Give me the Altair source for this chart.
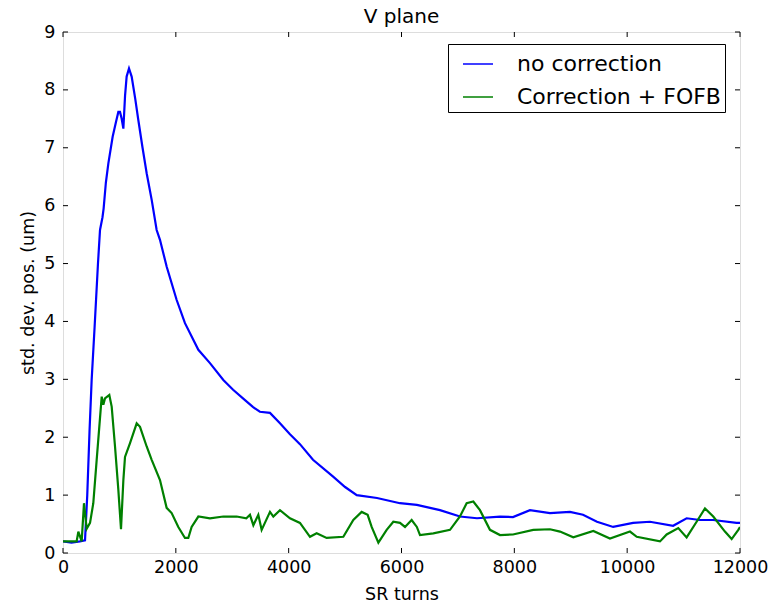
import altair as alt
import pandas as pd

# Beam position spread vs. turns in the storage ring, V plane
turns_no_corr = [0, 150, 300, 390, 430, 470, 508, 560, 620, 656, 700, 720, 760, 804, 880,
                 940, 981, 1010, 1040, 1070, 1100, 1128, 1170, 1217, 1280, 1335, 1410, 1483,
                 1572, 1660, 1719, 1837, 2015, 2162, 2399, 2605, 2842, 3015, 3226, 3370, 3490,
                 3669, 3846, 4023, 4200, 4431, 4788, 5000, 5207, 5566, 5973, 6272, 6682, 7036,
                 7338, 7746, 7976, 8277, 8632, 8986, 9217, 9465, 9752, 10105, 10404, 10815,
                 11054, 11290, 11526, 11940, 12000]
std_no_corr = [0.20, 0.18, 0.20, 0.22, 1.0, 2.1, 2.99, 3.9, 5.0, 5.58, 5.8, 5.95, 6.4, 6.73, 7.19,
               7.45, 7.62, 7.62, 7.5, 7.33, 7.9, 8.23, 8.37, 8.23, 7.85, 7.48, 7.0, 6.56,
               6.10, 5.58, 5.41, 4.95, 4.37, 3.97, 3.51, 3.28, 2.99, 2.82, 2.64, 2.52, 2.44,
               2.42, 2.24, 2.05, 1.88, 1.61, 1.32, 1.14, 1.00, 0.95, 0.86, 0.83, 0.74, 0.63,
               0.60, 0.63, 0.62, 0.74, 0.69, 0.71, 0.66, 0.54, 0.45, 0.52, 0.54, 0.47,
               0.60, 0.57, 0.57, 0.52, 0.52]

turns_fofb = [0, 242, 272, 331, 372, 420, 479, 537, 597, 686, 715, 744, 821, 863, 922, 981,
              1028, 1070, 1099, 1188, 1306, 1365, 1483, 1572, 1719, 1837, 1926, 2044, 2162,
              2221, 2280, 2399, 2605, 2842, 3078, 3250, 3314, 3374, 3462, 3521, 3669, 3728,
              3846, 4023, 4200, 4378, 4496, 4673, 4969, 5146, 5294, 5400, 5471, 5590, 5737,
              5855, 5973, 6062, 6180, 6272, 6328, 6564, 6860, 7036, 7155, 7273, 7391, 7568,
              7746, 7976, 8335, 8632, 8810, 9045, 9400, 9695, 10050, 10170, 10582, 10700,
              10906, 11054, 11231, 11379, 11526, 11733, 11852, 11970, 12000]
std_fofb = [0.20, 0.20, 0.37, 0.20, 0.86, 0.42, 0.52, 0.86, 1.61, 2.70, 2.56, 2.67, 2.73, 2.53,
            1.84, 1.09, 0.41, 1.26, 1.66, 1.90, 2.24, 2.18, 1.84, 1.61, 1.26, 0.78, 0.69, 0.45,
            0.26, 0.26, 0.45, 0.63, 0.60, 0.63, 0.63, 0.60, 0.66, 0.48, 0.66, 0.40, 0.71, 0.63,
            0.74, 0.60, 0.52, 0.28, 0.34, 0.26, 0.28, 0.57, 0.71, 0.66, 0.45, 0.18, 0.40,
            0.54, 0.52, 0.45, 0.57, 0.45, 0.31, 0.34, 0.40, 0.63, 0.86, 0.89, 0.74, 0.40,
            0.31, 0.32, 0.40, 0.41, 0.37, 0.27, 0.38, 0.25, 0.37, 0.28, 0.20, 0.32,
            0.43, 0.27, 0.54, 0.77, 0.63, 0.37, 0.24, 0.40, 0.45]

series_names = ["no correction", "Correction + FOFB"]
series_colors = ["#0000ff", "#008000"]
x_ticks = [0, 2000, 4000, 6000, 8000, 10000, 12000]
y_ticks = [0, 1, 2, 3, 4, 5, 6, 7, 8, 9]

W, H = 677, 521
FONT = "DejaVu Sans"
TICK_LEN = 5

df = pd.concat([
    pd.DataFrame({"turns": turns_no_corr, "std": std_no_corr, "series": series_names[0],
                  "order": range(len(turns_no_corr))}),
    pd.DataFrame({"turns": turns_fofb, "std": std_fofb, "series": series_names[1],
                  "order": range(len(turns_fofb))}),
])

x_scale = alt.Scale(domain=[0, 12000], nice=False, zero=False)
y_scale = alt.Scale(domain=[0, 9], nice=False, zero=False)

lines = alt.Chart(df).mark_line(strokeWidth=2.2, clip=True).encode(
    x=alt.X("turns:Q", scale=x_scale,
            axis=alt.Axis(title="SR turns", values=x_ticks, format="d", ticks=False,
                          domain=False, grid=False, labelFlush=False, labelFontSize=17.5,
                          labelPadding=5, titleFontSize=17.5, titlePadding=10,
                          labelFont=FONT, titleFont=FONT, labelColor="black",
                          titleColor="black", titleFontWeight="normal")),
    y=alt.Y("std:Q", scale=y_scale,
            axis=alt.Axis(title="std. dev. pos. (um)", values=y_ticks, format="d", ticks=False,
                          domain=False, grid=False, labelFlush=False, labelFontSize=17.5,
                          labelPadding=8, titleFontSize=17.5, titlePadding=6,
                          labelFont=FONT, titleFont=FONT, labelColor="black",
                          titleColor="black", titleFontWeight="normal")),
    color=alt.Color("series:N", scale=alt.Scale(domain=series_names, range=series_colors),
                    legend=alt.Legend(title=None, orient="none", legendX=385, legendY=12,
                                      symbolType="stroke", symbolSize=900, symbolStrokeWidth=1.5,
                                      symbolOffset=10, labelOffset=23, labelFontSize=22,
                                      labelFont=FONT, labelColor="black", labelLimit=400,
                                      padding=4, rowPadding=6, strokeColor="black",
                                      fillColor="white", cornerRadius=0)),
    detail="series:N",
    order="order:Q",
)

xt = pd.DataFrame({"t": x_ticks})
yt = pd.DataFrame({"t": y_ticks})

x_bottom = alt.Chart(xt).mark_rule(color="black").encode(
    x=alt.X("t:Q", scale=x_scale), y=alt.value(H), y2=alt.value(H - TICK_LEN))
x_top = alt.Chart(xt).mark_rule(color="black").encode(
    x=alt.X("t:Q", scale=x_scale), y=alt.value(0), y2=alt.value(TICK_LEN))
y_left = alt.Chart(yt).mark_rule(color="black").encode(
    y=alt.Y("t:Q", scale=y_scale), x=alt.value(0), x2=alt.value(TICK_LEN))
y_right = alt.Chart(yt).mark_rule(color="black").encode(
    y=alt.Y("t:Q", scale=y_scale), x=alt.value(W), x2=alt.value(W - TICK_LEN))

chart = alt.layer(lines, x_bottom, x_top, y_left, y_right).properties(
    width=W, height=H,
    title=alt.Title("V plane", fontSize=20, font=FONT, fontWeight="normal", color="black",
                    offset=-4),
    autosize=alt.AutoSizeParams(type="none"),
    padding={"left": 63, "top": 32, "right": 41, "bottom": 51},
).configure_view(stroke="black", strokeWidth=1.2).configure(background="white")

chart.save("out.html", embed_options={"renderer": "svg", "actions": False})
